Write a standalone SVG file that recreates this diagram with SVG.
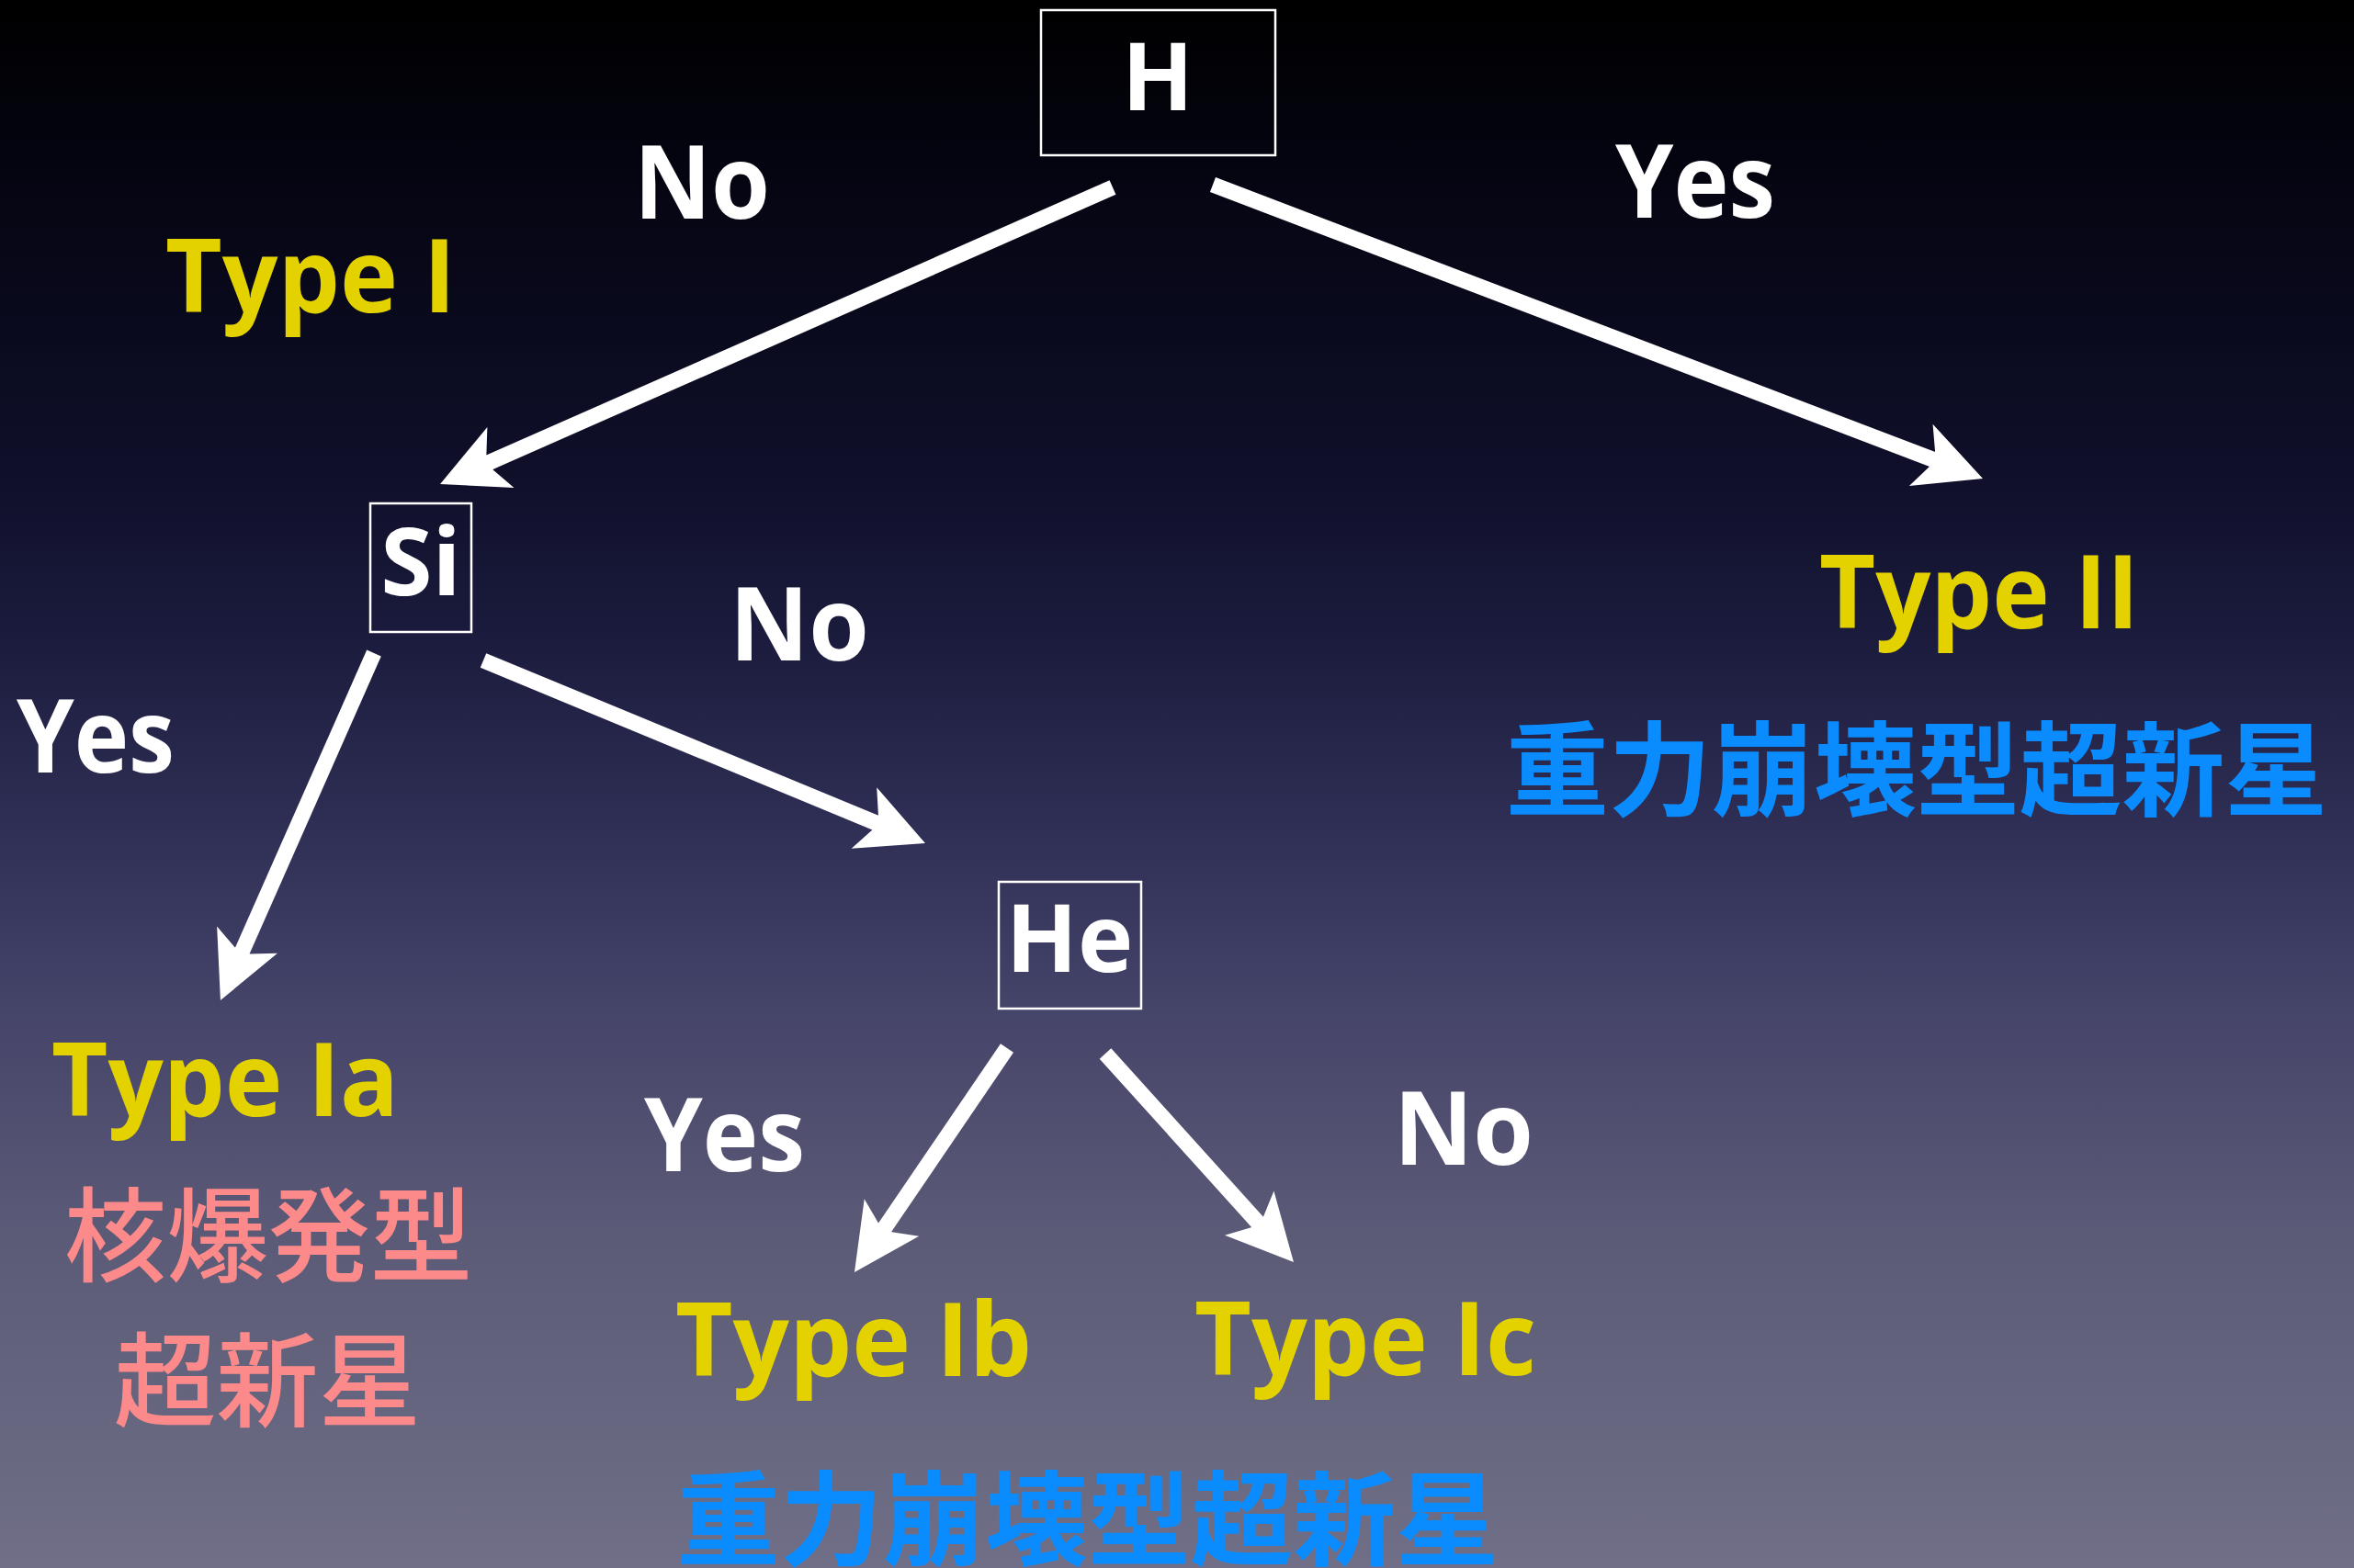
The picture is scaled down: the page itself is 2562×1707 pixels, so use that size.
<svg xmlns="http://www.w3.org/2000/svg" width="2562" height="1707" viewBox="0 0 2562 1707">
<defs>
<linearGradient id="bg" x1="0" y1="0" x2="0" y2="1">
<stop offset="0" stop-color="#000000"/>
<stop offset="0.1" stop-color="#040410"/>
<stop offset="0.3" stop-color="#0f0f2a"/>
<stop offset="0.4" stop-color="#1a1a3c"/>
<stop offset="0.55" stop-color="#33335a"/>
<stop offset="0.65" stop-color="#46456a"/>
<stop offset="0.8" stop-color="#5d5c78"/>
<stop offset="1" stop-color="#706f87"/>
</linearGradient>
<marker id="head" markerUnits="userSpaceOnUse" viewBox="-20 -40 82 80" markerWidth="82" markerHeight="80" refX="0" refY="0" orient="auto">
<path d="M58,0 L-14,-36 L-1,-9 L-1,9 L-14,36 Z" fill="#ffffff"/>
</marker>
</defs>
<style>
.box{fill:none;stroke:#ffffff;stroke-width:2.5}
.node{font-family:"Open Sans","Noto Sans","DejaVu Sans",sans-serif;font-weight:bold;font-size:102px;fill:#ffffff;text-anchor:middle}
.lbl{font-family:"Open Sans","Noto Sans","DejaVu Sans",sans-serif;font-weight:bold;font-size:112px;fill:#ffffff}
.type{font-family:"Open Sans","Noto Sans","DejaVu Sans",sans-serif;font-weight:bold;font-size:112px;fill:#e3d200}
.blue{font-family:"Noto Sans CJK JP","Noto Sans CJK SC",sans-serif;font-weight:bold;font-size:112px;fill:#0a8cff}
.pink{font-family:"Noto Sans CJK JP","Noto Sans CJK SC",sans-serif;font-weight:500;font-size:112px;fill:#fd8a8a}
.conn{stroke:#ffffff;stroke-width:17;fill:none;marker-end:url(#head)}
</style>
<rect x="0" y="0" width="2562" height="1707" fill="url(#bg)"/>
<g id="connectors">
<line class="conn" x1="1211" y1="204" x2="532.1" y2="503.6"/>
<line class="conn" x1="1320" y1="201" x2="2103.8" y2="500.3"/>
<line class="conn" x1="407" y1="711" x2="263.4" y2="1035.9"/>
<line class="conn" x1="526" y1="719" x2="953.4" y2="895.8"/>
<line class="conn" x1="1096" y1="1141" x2="962.6" y2="1337"/>
<line class="conn" x1="1203" y1="1147" x2="1369.1" y2="1331"/>
</g>
<g id="node-H">
<rect class="box" x="1133" y="11" width="255" height="158"/>
<text class="node" x="1260" y="120">H</text>
</g>
<g id="node-Si">
<rect class="box" x="403" y="548" width="110" height="140"/>
<text class="node" x="458" y="648">Si</text>
</g>
<g id="node-He">
<rect class="box" x="1087" y="960" width="155" height="138"/>
<text class="node" x="1164" y="1058">He</text>
</g>
<g id="edge-labels">
<text class="lbl" x="690" y="238" textLength="148" lengthAdjust="spacingAndGlyphs">No</text>
<text class="lbl" x="1758" y="237" textLength="174" lengthAdjust="spacingAndGlyphs">Yes</text>
<text class="lbl" x="794" y="719" textLength="152" lengthAdjust="spacingAndGlyphs">No</text>
<text class="lbl" x="18" y="841" textLength="172" lengthAdjust="spacingAndGlyphs">Yes</text>
<text class="lbl" x="701" y="1275" textLength="175" lengthAdjust="spacingAndGlyphs">Yes</text>
<text class="lbl" x="1517" y="1268" textLength="152" lengthAdjust="spacingAndGlyphs">No</text>
</g>
<g id="node-TypeI">
<text class="type" x="180" y="340" textLength="316" lengthAdjust="spacingAndGlyphs">Type I</text>
</g>
<g id="node-TypeII">
<text class="type" x="1980" y="684" textLength="348" lengthAdjust="spacingAndGlyphs">Type II</text>
<text class="blue" x="1639" y="880" textLength="894" lengthAdjust="spacingAndGlyphs">重力崩壊型超新星</text>
</g>
<g id="node-TypeIa">
<text class="type" x="56" y="1215" textLength="378" lengthAdjust="spacingAndGlyphs">Type Ia</text>
<text class="pink" x="70" y="1387" textLength="444" lengthAdjust="spacingAndGlyphs">核爆発型</text>
<text class="pink" x="124" y="1545" textLength="334" lengthAdjust="spacingAndGlyphs">超新星</text>
</g>
<g id="node-TypeIb">
<text class="type" x="735" y="1498" textLength="388" lengthAdjust="spacingAndGlyphs">Type Ib</text>
</g>
<g id="node-TypeIc">
<text class="type" x="1300" y="1497" textLength="372" lengthAdjust="spacingAndGlyphs">Type Ic</text>
</g>
<g id="label-bottom">
<text class="blue" x="737" y="1696" textLength="894" lengthAdjust="spacingAndGlyphs">重力崩壊型超新星</text>
</g>
</svg>
